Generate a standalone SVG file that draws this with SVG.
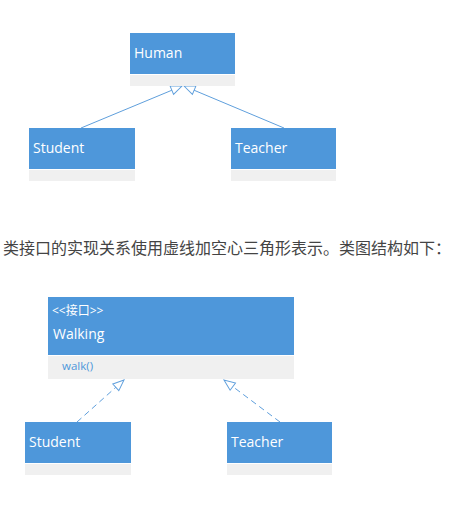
<svg xmlns="http://www.w3.org/2000/svg" width="455" height="518" viewBox="0 0 455 518">
<defs>
<style>
.hd{fill:#4e97da}
.bd{fill:#f0f0f0}
.t{font-family:"Open Sans","Noto Sans",sans-serif;font-size:14px;fill:#ffffff}
.s{font-family:"Open Sans","Noto Sans","Noto Sans CJK SC",sans-serif;font-size:12px;fill:#ffffff}
.m{font-family:"Open Sans","Noto Sans",sans-serif;font-size:11.5px;fill:#4e97da}
.cap{font-family:"Noto Sans CJK SC","Noto Sans",sans-serif;font-size:16px;fill:#444444}
.ln{fill:none;stroke:#5f9fdc;stroke-width:1}
.dash{stroke-dasharray:6 4}
</style>
<marker id="tri" markerUnits="userSpaceOnUse" markerWidth="16" markerHeight="14" viewBox="-13 -7 16 14" refX="0" refY="0" orient="auto">
<path d="M0,0 L-11,-4.5 L-11,4.5 Z" fill="#ffffff" stroke="#5f9fdc" stroke-width="1" stroke-dasharray="none"/>
</marker>
</defs>
<rect width="455" height="518" fill="#ffffff"/>
<g id="connectors">
<path class="ln" d="M81,128 L182,86" marker-end="url(#tri)"/>
<path class="ln" d="M284,128 L184,86" marker-end="url(#tri)"/>
<path class="ln dash" d="M77,422 L124,380" marker-end="url(#tri)"/>
<path class="ln dash" d="M280,422 L224,380" marker-end="url(#tri)"/>
</g>
<g id="human">
<rect class="hd" x="130" y="33" width="105" height="41"/>
<rect class="bd" x="130" y="75" width="105" height="11"/>
<text class="t" x="134" y="58">Human</text>
</g>
<g id="student1">
<rect class="hd" x="29" y="128" width="106" height="41"/>
<rect class="bd" x="29" y="170" width="106" height="11"/>
<text class="t" x="33" y="153">Student</text>
</g>
<g id="teacher1">
<rect class="hd" x="231" y="128" width="105" height="41"/>
<rect class="bd" x="231" y="170" width="105" height="11"/>
<text class="t" x="235" y="153">Teacher</text>
</g>
<text class="cap" x="3" y="254" textLength="448" lengthAdjust="spacing">类接口的实现关系使用虚线加空心三角形表示。类图结构如下：</text>
<g id="walking">
<rect class="hd" x="48" y="297" width="246" height="58"/>
<rect class="bd" x="48" y="356" width="246" height="23"/>
<text class="s" x="52" y="315">&lt;&lt;接口&gt;&gt;</text>
<text class="t" x="53" y="339">Walking</text>
<text class="m" x="62" y="370">walk()</text>
</g>
<g id="student2">
<rect class="hd" x="25" y="422" width="106" height="41"/>
<rect class="bd" x="25" y="464" width="106" height="11"/>
<text class="t" x="29" y="447">Student</text>
</g>
<g id="teacher2">
<rect class="hd" x="227" y="422" width="105" height="41"/>
<rect class="bd" x="227" y="464" width="105" height="11"/>
<text class="t" x="231" y="447">Teacher</text>
</g>
</svg>
